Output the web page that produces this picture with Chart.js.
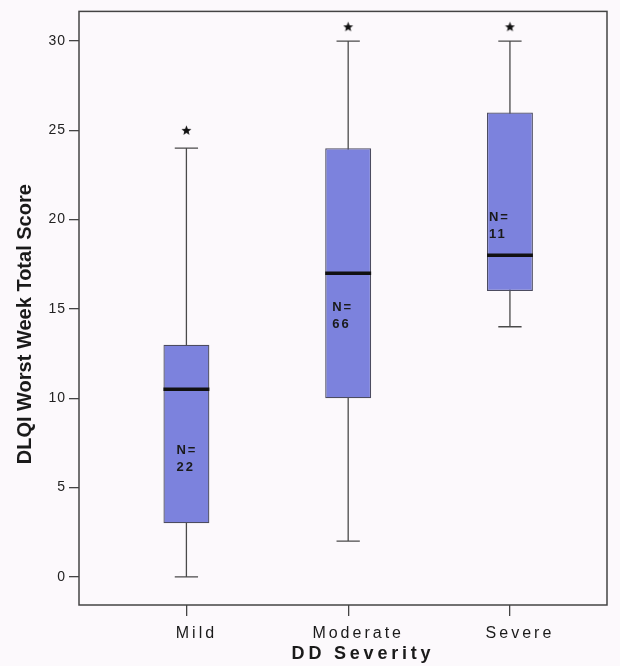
<!DOCTYPE html>
<html>
<head>
<meta charset="utf-8">
<script src="https://cdn.jsdelivr.net/npm/chart.js@4"></script>
<style>
  body { margin: 0; background: #fcf9fc; }
  .chart-container { width: 620px; height: 666px; }
</style>
</head>
<body>
<div class="chart-container">
    <canvas id="boxChart"></canvas>
</div>

<script>
    // values
    const categories = ['Mild', 'Moderate', 'Severe'];
    const whiskerLow = [0, 2, 14];
    const quartile1 = [3, 10, 16];
    const medians = [10.5, 17, 18];
    const quartile3 = [13, 24, 26];
    const whiskerHigh = [24, 30, 30];
    const extremes = [25, 30.8, 30.8];
    const counts = [22, 66, 11];
    const yTicks = [0, 5, 10, 15, 20, 25, 30];

    const boxHalf = 0.142;   // half box width, in category units
    const capHalf = 0.072;
    const fontFamily = "'Liberation Sans', Arial, sans-serif";

    // whisker lines + caps, gaps split the segments
    const whiskerData = [];
    const medianData = [];
    categories.forEach((c, i) => {
        whiskerData.push({x: i, y: whiskerLow[i]}, {x: i, y: whiskerHigh[i]}, {x: i, y: null});
        whiskerData.push({x: i - capHalf, y: whiskerLow[i]}, {x: i + capHalf, y: whiskerLow[i]}, {x: i, y: null});
        whiskerData.push({x: i - capHalf, y: whiskerHigh[i]}, {x: i + capHalf, y: whiskerHigh[i]}, {x: i, y: null});
        medianData.push({x: i - boxHalf, y: medians[i]}, {x: i + boxHalf, y: medians[i]}, {x: i, y: null});
    });

    // small filled star for the extreme values
    const star = document.createElement('canvas');
    star.width = 11; star.height = 11;
    const sctx = star.getContext('2d');
    sctx.fillStyle = '#111';
    sctx.beginPath();
    for (let k = 0; k < 10; k++) {
        const r = k % 2 === 0 ? 5.2 : 2.3;
        const a = -Math.PI / 2 + k * Math.PI / 5;
        sctx.lineTo(5.5 + r * Math.cos(a), 5.8 + r * Math.sin(a));
    }
    sctx.closePath();
    sctx.fill();

    // letter spacing and title shifts per scale
    const spacingPlugin = {
        id: 'spacing',
        beforeDraw(chart, args, opts) {
            Object.entries(opts.scales || {}).forEach(([id, cfg]) => {
                const s = chart.scales[id];
                if (!s || s._spaced) return;
                const lbl = s.drawLabels.bind(s);
                const ttl = s.drawTitle.bind(s);
                s.drawLabels = (a) => {
                    const ctx = chart.ctx;
                    ctx.save();
                    ctx.letterSpacing = cfg.labels;
                    lbl(a);
                    ctx.restore();
                };
                s.drawTitle = (a) => {
                    const ctx = chart.ctx;
                    ctx.save();
                    ctx.letterSpacing = cfg.title;
                    ctx.translate(cfg.shift[0], cfg.shift[1]);
                    ttl(a);
                    ctx.restore();
                };
                s._spaced = true;
            });
        }
    };

    // plot frame and the N= labels inside the boxes
    const annotatePlugin = {
        id: 'annotate',
        afterDatasetsDraw(chart, args, opts) {
            const {ctx, chartArea, scales} = chart;
            ctx.save();
            ctx.strokeStyle = '#444';
            ctx.lineWidth = 1.5;
            ctx.strokeRect(chartArea.left, chartArea.top, chartArea.right - chartArea.left, chartArea.bottom - chartArea.top);

            ctx.fillStyle = '#1a1a1a';
            ctx.font = 'bold 13px ' + fontFamily;
            ctx.letterSpacing = '2px';
            ctx.textAlign = 'left';
            ctx.textBaseline = 'middle';
            counts.forEach((n, i) => {
                const x = scales.x.getPixelForValue(i) + opts.dx[i];
                const y = scales.y.getPixelForValue(opts.labelY[i]);
                ctx.fillText('N=', x, y);
                ctx.fillText(String(n), x, y + 17);
            });
            ctx.restore();
        }
    };

    new Chart(document.getElementById('boxChart').getContext('2d'), {
        data: {
            datasets: [{
                type: 'line',
                data: whiskerData,
                borderColor: '#4a4a4a',
                borderWidth: 1.3,
                pointRadius: 0,
                spanGaps: false,
                order: 4
            }, {
                type: 'bar',
                data: categories.map((c, i) => ({x: i, y: [quartile1[i], quartile3[i]]})),
                backgroundColor: '#7c82dd',
                borderColor: '#4c4c60',
                borderWidth: 1.3,
                borderSkipped: false,
                categoryPercentage: 1,
                barPercentage: boxHalf * 2,
                order: 3
            }, {
                type: 'line',
                data: medianData,
                borderColor: '#111',
                borderWidth: 3.5,
                borderCapStyle: 'butt',
                pointRadius: 0,
                spanGaps: false,
                order: 2
            }, {
                type: 'scatter',
                data: categories.map((c, i) => ({x: i, y: extremes[i]})),
                pointStyle: star,
                order: 1
            }]
        },
        options: {
            responsive: true,
            maintainAspectRatio: false,
            animation: false,
            layout: { padding: { top: 6, right: 13, left: 0, bottom: 0 } },
            plugins: {
                legend: { display: false },
                tooltip: { enabled: false },
                spacing: {
                    scales: {
                        x: { labels: '3px', title: '3.8px', shift: [20, 0] },
                        y: { labels: '1px', title: '0px', shift: [0, 16] }
                    }
                },
                annotate: {
                    labelY: [7.1, 15.1, 20.1],
                    dx: [-10, -16, -21]
                }
            },
            scales: {
                x: {
                    type: 'linear',
                    offset: false,
                    min: -0.664,
                    max: 2.6,
                    afterBuildTicks: (scale) => { scale.ticks = categories.map((c, i) => ({value: i})); },
                    afterFit: (scale) => { scale.height = 61; },
                    ticks: {
                        callback: (v) => categories[v],
                        color: '#1a1a1a',
                        font: { family: fontFamily, size: 16 },
                        padding: 8,
                        labelOffset: 10,
                        maxRotation: 0
                    },
                    grid: { offset: false, drawOnChartArea: false, color: '#444', tickLength: 11, lineWidth: 1.3 },
                    border: { display: false },
                    title: {
                        display: true,
                        text: 'DD Severity',
                        color: '#1a1a1a',
                        font: { family: fontFamily, size: 18, weight: 'bold' },
                        padding: { top: 0, bottom: 1 }
                    }
                },
                y: {
                    type: 'linear',
                    min: -1.58,
                    max: 31.66,
                    afterBuildTicks: (scale) => { scale.ticks = yTicks.map(v => ({value: v})); },
                    afterFit: (scale) => { scale.width = 79; },
                    ticks: {
                        color: '#222',
                        font: { family: fontFamily, size: 14 },
                        padding: 3
                    },
                    grid: { drawOnChartArea: false, color: '#444', tickLength: 10, lineWidth: 1.3 },
                    border: { display: false },
                    title: {
                        display: true,
                        text: 'DLQI Worst Week Total Score',
                        color: '#1a1a1a',
                        font: { family: fontFamily, size: 20, weight: 'bold' },
                        padding: { top: 13, bottom: 0 }
                    }
                }
            }
        },
        plugins: [spacingPlugin, annotatePlugin]
    });
</script>
</body>
</html>
